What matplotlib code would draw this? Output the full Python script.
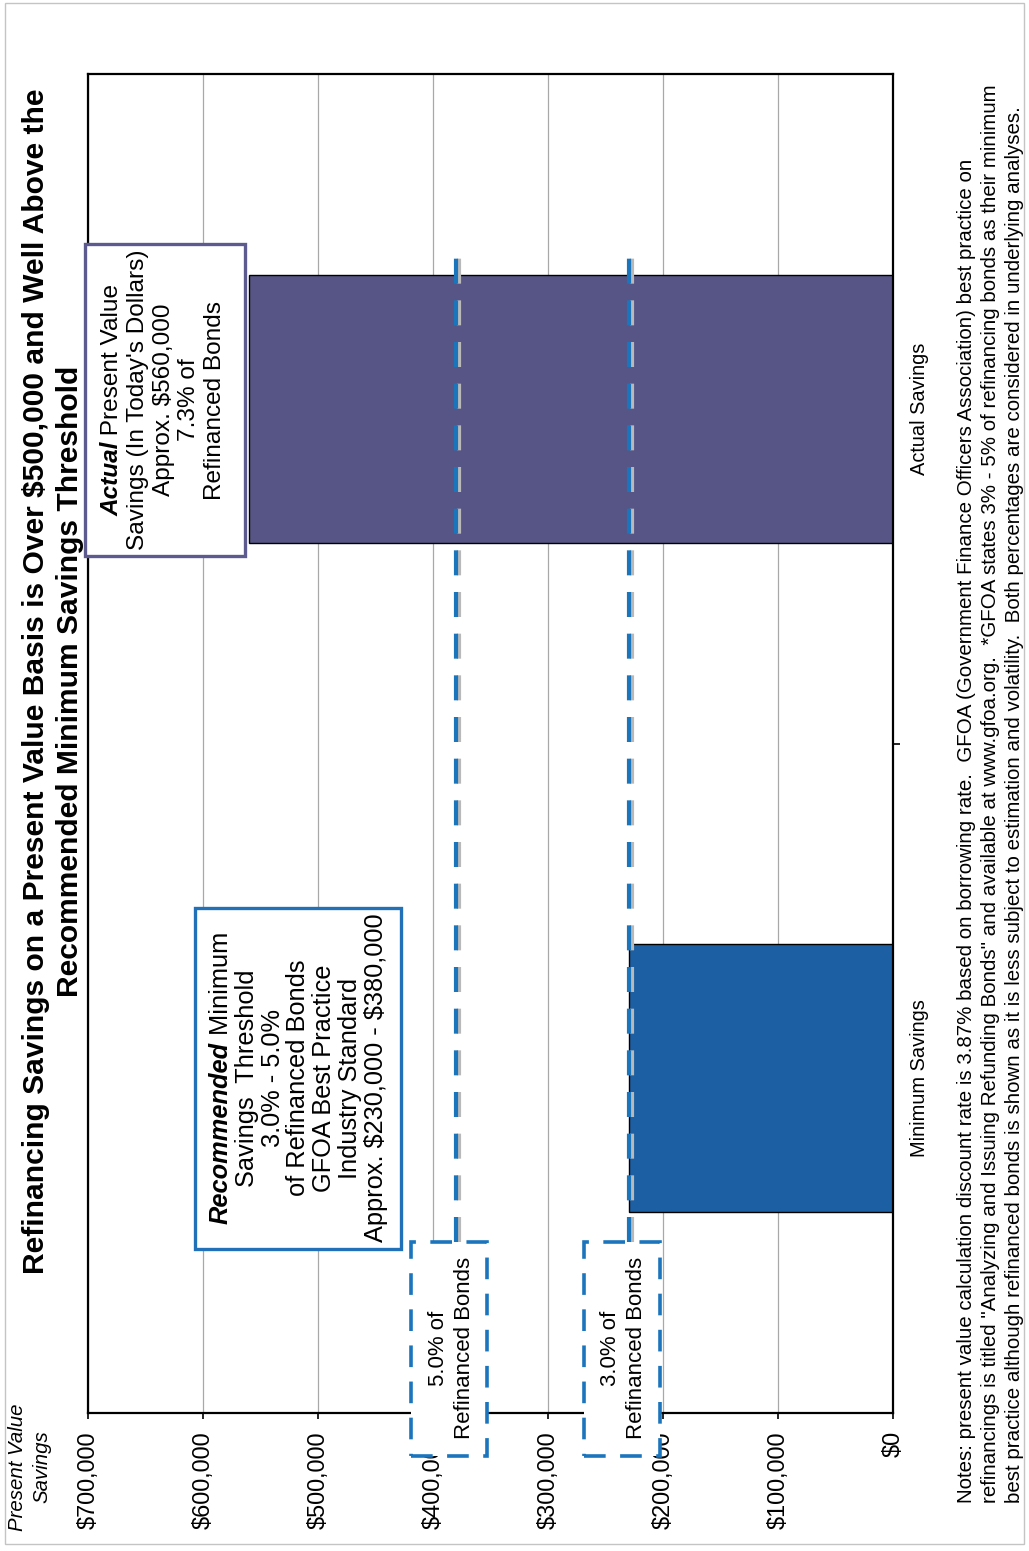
import matplotlib
matplotlib.use("Agg")
import matplotlib.pyplot as plt
import matplotlib.font_manager as fm
import matplotlib.transforms as mtransforms
from matplotlib.patches import Rectangle

# chart data
categories = ['Minimum Savings', 'Actual Savings']
savings = [230000, 560000]
bar_colors = ['#1c5fa3', '#575586']
thresholds = [230000, 380000]          # 3% and 5% of refinanced bonds
threshold_labels = [['3.0% of', 'Refinanced Bonds'], ['5.0% of', 'Refinanced Bonds']]
tick_values = [0, 100000, 200000, 300000, 400000, 500000, 600000, 700000]
tick_labels = ['$0', '$100,000', '$200,000', '$300,000', '$400,000',
               '$500,000', '$600,000', '$700,000']

title_lines = [r'Refinancing Savings on a Present Value Basis is Over \$500,000 and Well Above the',
               'Recommended Minimum Savings Threshold']
recommended_lines = ['Savings  Threshold', '3.0% - 5.0%', 'of Refinanced Bonds',
                     'GFOA Best Practice', 'Industry Standard', r'Approx. \$230,000 - \$380,000']
actual_lines = ['Savings (In Today\'s Dollars)', r'Approx. \$560,000', '7.3% of', 'Refinanced Bonds']
notes_lines = [
    'Notes: present value calculation discount rate is 3.87% based on borrowing rate.  '
    'GFOA (Government Finance Officers Association) best practice on',
    'refinancings is titled "Analyzing and Issuing Refunding Bonds" and available at www.gfoa.org.  '
    '*GFOA states 3% - 5% of refinancing bonds as their minimum',
    'best practice although refinanced bonds is shown as it is less subject to estimation and volatility.  '
    'Both percentages are considered in underlying analyses.',
]

W, H = 1029, 1551
BLUE = '#1b75bc'
PURPLE = '#5c5a8e'


def has_font(name):
    try:
        fm.findfont(fm.FontProperties(family=name), fallback_to_default=False)
        return True
    except ValueError:
        return False


REG = 'Liberation Sans'
NARROW = 'Liberation Sans Narrow' if has_font('Liberation Sans Narrow') else REG

fig = plt.figure(figsize=(W / 100, H / 100), dpi=100)
renderer = fig.canvas.get_renderer()


def text_width(s, size, **kw):
    t = fig.text(0, 0, s, fontsize=size, **kw)
    w = t.get_window_extent(renderer=renderer).width
    t.remove()
    return w


def fit(s, target, **kw):
    return 20 * target / text_width(s, 20, **kw)


def vtext(px, py, s, **kw):
    kw.setdefault('ha', 'center')
    kw.setdefault('va', 'center')
    return fig.text(px / W, 1 - py / H, s, rotation=90, **kw)


def mixed_line(px, py, parts, size):
    # parts: list of (text, font kwargs), drawn bottom-to-top as one line
    widths = [text_width(s, size, **k) for s, k in parts]
    start = py + sum(widths) / 2
    for (s, k), w in zip(parts, widths):
        vtext(px, start - w / 2, s, fontsize=size, **k)
        start -= w


def fig_rect(x0, y0, x1, y1, **kw):
    r = Rectangle((x0 / W, 1 - y1 / H), (x1 - x0) / W, (y1 - y0) / H,
                  transform=fig.transFigure, **kw)
    fig.add_artist(r)
    return r


# main axes (chart is printed rotated: values run right-to-left, categories bottom-to-top)
ax = fig.add_axes([88 / W, 138 / H, (893 - 88) / W, (1413 - 74) / H])
ax.barh([0, 1], savings, height=0.4, color=bar_colors, edgecolor='black', lw=1.0, zorder=2)
ax.set_xlim(700000, 0)
ax.set_ylim(-0.5, 1.5)
ax.grid(axis='x', color='#a8a8a8', lw=0.9, zorder=0)
ax.set_axisbelow(True)
for sp in ax.spines.values():
    sp.set_linewidth(1.6)

tick_size = fit('$700,000', 98, family=REG)
ax.set_xticks(tick_values)
ax.set_xticklabels(tick_labels, rotation=90, family=REG, fontsize=tick_size)
ax.tick_params(axis='x', length=4, width=1.2, direction='out', pad=9)

cat_size = fit('Actual Savings', 132, family=REG)
ax.yaxis.tick_right()
ax.set_yticks([0, 1])
ax.set_yticklabels(categories, rotation=90, va='center', family=REG, fontsize=cat_size)
ax.tick_params(axis='y', which='major', length=0, pad=12)
ax.set_yticks([0.5], minor=True)
ax.tick_params(axis='y', which='minor', length=5, width=1.2, direction='out', right=True, left=False)

# dashed threshold lines with faint scan shadow
shadow = mtransforms.offset_copy(ax.transData, fig=fig, x=3, y=0, units='dots')
for v in thresholds:
    ax.plot([v, v], [-0.245, 1.245], color='#b9b9b9', lw=3, ls=(0, (6, 4)),
            transform=shadow, clip_on=False, zorder=3)
    ax.plot([v, v], [-0.245, 1.245], color=BLUE, lw=3, ls=(0, (6, 4)),
            clip_on=False, zorder=4)

# dashed label boxes under the threshold lines
lab_size = fit('Refinanced Bonds', 181, family=REG)
for v, lines in zip(thresholds, threshold_labels):
    px = ax.transData.transform((v, 0))[0]
    left = px - 45
    fig_rect(left, 1242, left + 76, 1456, facecolor='white', edgecolor=BLUE,
             lw=2.6, ls=(0, (6, 4)), zorder=3)
    for i, s in enumerate(lines):
        vtext(left + 27 + i * 26, 1348, s, family=REG, fontsize=lab_size, zorder=4)

# recommended threshold box
box_size = fit(recommended_lines[-1], 330, family=REG)
fig_rect(195, 908, 401, 1249, facecolor='white', edgecolor='#2271b8', lw=2.4, zorder=3)
mixed_line(221, 1078, [('Recommended', dict(family=REG, weight='bold', style='italic')),
                       (' Minimum', dict(family=REG))], box_size)
for i, s in enumerate(recommended_lines):
    vtext(221 + (i + 1) * 25.8, 1078, s, family=REG, fontsize=box_size, zorder=4)

# actual savings box
act_size = box_size * 0.96
fig_rect(85, 244, 245, 556, facecolor='white', edgecolor=PURPLE, lw=2.4, zorder=3)
mixed_line(112, 400, [('Actual', dict(family=REG, weight='bold', style='italic')),
                      (' Present Value', dict(family=REG))], act_size)
for i, s in enumerate(actual_lines):
    vtext(112 + (i + 1) * 25.8, 400, s, family=REG, fontsize=act_size, zorder=4)

# value axis caption
cap_size = fit('Present Value', 127, family=REG, style='italic')
vtext(18, 1467, 'Present Value', family=REG, style='italic', fontsize=cap_size)
vtext(42, 1467, 'Savings', family=REG, style='italic', fontsize=cap_size)

# title
title_size = fit(title_lines[0], 1187, family=NARROW, weight='bold')
vtext(36, 681, title_lines[0], family=NARROW, weight='bold', fontsize=title_size)
vtext(70, 681, title_lines[1], family=NARROW, weight='bold', fontsize=title_size)

# notes
note_size = fit(notes_lines[1], 1416, family=NARROW)
for i, s in enumerate(notes_lines):
    fig.text((966 + i * 24) / W, 1 - 1503 / H, s, rotation=90, ha='center', va='bottom',
             family=NARROW, fontsize=note_size)

# scanned page edge
fig_rect(5, 3, 1024, 1544, fill=False, edgecolor='#c4c4c4', lw=1.0, zorder=0.5)

fig.savefig('out.png', dpi=100)
